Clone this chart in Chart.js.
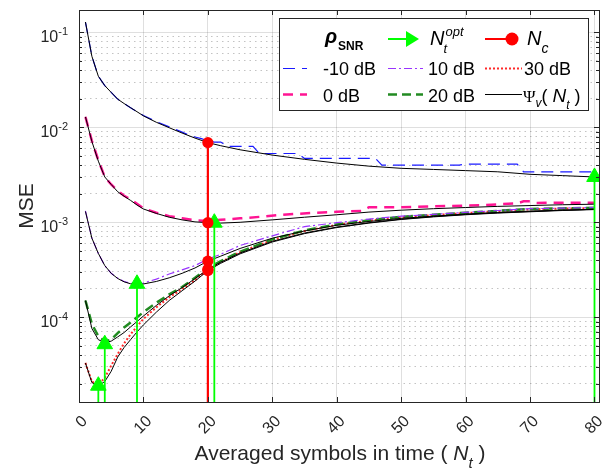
<!DOCTYPE html>
<html><head><meta charset="utf-8">
<script src="https://cdn.jsdelivr.net/npm/chart.js@4.4.1/dist/chart.umd.min.js"></script>
<style>html,body{margin:0;padding:0;background:#fff;}#wrap{width:613px;height:471px;}</style>
</head><body><div id="wrap"><canvas id="c" width="613" height="471"></canvas></div>
<script>
// ---------------- data ----------------
const Y_MIN = 1.28e-5, Y_MAX = 0.172;
const X_MIN = 0, X_MAX = 80.7;
const xTickValues = [0,10,20,30,40,50,60,70,80];
const yDecades = [1e-4,1e-3,1e-2,1e-1];
const yTickExponents = ['-4','-3','-2','-1'];

// shared N grid for analytic curves and 10/20/30 dB simulations
const nGrid = [1,2,3,4,5,6,7,8,9,10,12,14,16,18,20,22,25,30,35,40,45,50,55,60,65,70,75,80];

// Psi_v(N_t) analytic curves (black)
const psiNeg10 = [0.1285,0.056,0.0345,0.0275,0.0233,0.0198,0.0178,0.0161,0.0146,0.0132,0.0113,0.0099,0.0087,0.0077,0.0069,0.0064,0.0058,0.0051,0.0046,0.0042,0.0039,0.0037,0.0036,0.0035,0.0034,0.0032,0.0031,0.0030];
const psi0     = [0.0129,0.0071,0.0044,0.0030,0.0025,0.0021,0.00188,0.0017,0.00152,0.00138,0.00124,0.00113,0.00106,0.00101,0.00099,0.00098,0.00100,0.00106,0.00113,0.0012,0.00128,0.00134,0.00139,0.00143,0.00147,0.0015,0.00153,0.00155];
const psi10    = [0.0013,0.00068,0.00047,0.00035,0.00029,0.000256,0.000236,0.000225,0.000222,0.000224,0.000238,0.00026,0.00029,0.00033,0.00039,0.00044,0.00053,0.00068,0.00081,0.00093,0.00102,0.0011,0.00116,0.00122,0.00127,0.00131,0.00134,0.00137];
const psi20    = [1.5e-4,7.6e-5,5.8e-5,5.4e-5,5.6e-5,6.2e-5,6.9e-5,7.9e-5,9.0e-5,1.03e-4,1.33e-4,1.68e-4,2.05e-4,2.55e-4,3.2e-4,3.8e-4,4.75e-4,6.3e-4,7.7e-4,8.9e-4,9.9e-4,1.08e-3,1.15e-3,1.21e-3,1.26e-3,1.3e-3,1.34e-3,1.37e-3];
const psi30    = [3.3e-5,2.05e-5,1.9e-5,2.1e-5,2.7e-5,3.8e-5,4.8e-5,5.8e-5,7.0e-5,8.3e-5,1.13e-4,1.5e-4,1.9e-4,2.4e-4,3.1e-4,3.7e-4,4.65e-4,6.2e-4,7.6e-4,8.8e-4,9.8e-4,1.07e-3,1.14e-3,1.2e-3,1.25e-3,1.29e-3,1.33e-3,1.36e-3];

// simulated MSE
const nSimNeg10   = [1,2,3,4,5,6,7,8,9,10,12,14,16,17,18,19,20,21,22,23,27,28,34,35,46,47,59,60,68,69,80];
const mseSimNeg10 = [0.1285,0.056,0.0345,0.0275,0.0233,0.0198,0.0178,0.0161,0.0146,0.0133,0.0115,0.0101,0.0089,0.0083,0.0079,0.0076,0.0072,0.0070,0.0070,0.0063,0.0063,0.0053,0.0053,0.0047,0.0047,0.0040,0.0040,0.0041,0.0041,0.0034,0.0034];
const nSim0   = [1,2,3,4,5,6,7,8,10,12,14,16,18,20,22,25,28,31,34,40,44,45,50,55,60,63,68,69,70,71,80];
const mseSim0 = [0.0129,0.0072,0.0045,0.0030,0.0025,0.00215,0.0019,0.00175,0.0014,0.00126,0.00116,0.0011,0.00105,0.00103,0.00106,0.0011,0.00114,0.00119,0.00123,0.00129,0.00132,0.00144,0.00144,0.00147,0.0015,0.00152,0.00158,0.00166,0.00166,0.0016,0.00161];
const mseSim10 = [0.00132,0.00068,0.00047,0.00035,0.00029,0.000258,0.000238,0.000228,0.000226,0.000229,0.000252,0.000285,0.000315,0.00035,0.00041,0.00046,0.00057,0.00072,0.0009,0.00099,0.00108,0.00116,0.00121,0.00127,0.00133,0.00139,0.00141,0.00143];
const mseSim20 = [1.5e-4,8.5e-5,6.3e-5,5.6e-5,5.8e-5,6.8e-5,7.8e-5,8.8e-5,1.0e-4,1.13e-4,1.42e-4,1.74e-4,2.08e-4,2.6e-4,3.3e-4,3.9e-4,4.9e-4,6.6e-4,8.2e-4,9.5e-4,1.05e-3,1.14e-3,1.2e-3,1.26e-3,1.32e-3,1.38e-3,1.4e-3,1.42e-3];
const mseSim30 = [3.3e-5,2.1e-5,1.95e-5,2.3e-5,3.1e-5,4.1e-5,5.3e-5,6.6e-5,8.0e-5,9.6e-5,1.27e-4,1.62e-4,1.98e-4,2.45e-4,3.2e-4,3.8e-4,4.85e-4,6.5e-4,8.1e-4,9.4e-4,1.04e-3,1.13e-3,1.19e-3,1.25e-3,1.31e-3,1.37e-3,1.39e-3,1.41e-3];

// optimum N_t (green stems) and N_c (red stem + dots)
const nOpt   = [3,4,9,21,80];
const mseOpt = [1.9e-5,5.2e-5,2.25e-4,9.9e-4,3.0e-3];
const nC     = [20,20,20,20,20];
const mseNc  = [0.0069,0.00099,0.00039,0.00032,0.00031];

// ---------------- styles ----------------
const AX = '#262626';
const FONT = '"Liberation Sans", Arial, sans-serif';
const C_BLUE='#1a1aff', C_PINK='#ff1493', C_PURPLE='#9933ff', C_GREEN='#228b22', C_RED='#ff2a2a';
const C_STEM_G='#00ff00', C_STEM_R='#ff0000';

const yMinorValues = [];
[1e-5,1e-4,1e-3,1e-2].forEach(d=>{ for(let k=2;k<=9;k++){ const v=k*d; if(v>Y_MIN && v<Y_MAX) yMinorValues.push(v);} });

function pts(ns, vs){ return ns.map((n,i)=>({x:n,y:vs[i]})); }
function line(data, color, width, dash, order){
  return {data, borderColor:color, backgroundColor:color, borderWidth:width, borderDash:dash, showLine:true, pointRadius:0, tension:0, order};
}

const datasets = [
  line(pts(nSimNeg10,mseSimNeg10), C_BLUE, 1.2, [12,7], 3),
  line(pts(nSim0,mseSim0), C_PINK, 2.5, [10,7], 3),
  line(pts(nGrid,mseSim10), C_PURPLE, 1.2, [8,3,2,3], 3),
  line(pts(nGrid,mseSim20), C_GREEN, 2.5, [9,5], 3),
  line(pts(nGrid,mseSim30), C_RED, 2, [2,2], 3),
  line(pts(nGrid,psiNeg10), '#000', 1, [], 2),
  line(pts(nGrid,psi0), '#000', 1, [], 2),
  line(pts(nGrid,psi10), '#000', 1, [], 2),
  line(pts(nGrid,psi20), '#000', 1, [], 2),
  line(pts(nGrid,psi30), '#000', 1, [], 2),
];
// red N_c stem (from axis bottom up to highest N_c point)
datasets.push({data:[{x:nC[0],y:Y_MIN},{x:nC[0],y:Math.max(...mseNc)}], borderColor:C_STEM_R, borderWidth:2.2, showLine:true, pointRadius:0, order:1});
// green N_t^opt stems with triangle heads
nOpt.forEach((n,i)=>{
  datasets.push({data:[{x:n,y:Y_MIN},{x:n,y:mseOpt[i]}], borderColor:C_STEM_G, backgroundColor:C_STEM_G, borderWidth:1.8, showLine:true,
    pointStyle:'triangle', pointRadius:c=>c.dataIndex===1?9:0, pointBorderWidth:1, order:1});
});
// red N_c dots
datasets.push({data:pts(nC,mseNc), showLine:false, pointStyle:'circle', pointRadius:5.6, backgroundColor:C_STEM_R, borderColor:C_STEM_R, pointBorderWidth:0, order:0});

// ---------------- decorations plugin ----------------
function drawSample(ctx, x1, x2, y, color, width, dash){
  ctx.save(); ctx.strokeStyle=color; ctx.lineWidth=width; ctx.setLineDash(dash);
  ctx.beginPath(); ctx.moveTo(x1,y); ctx.lineTo(x2,y); ctx.stroke(); ctx.restore();
}
function seq(ctx, x, parts){
  parts.forEach(p=>{ ctx.font=p.f; ctx.fillText(p.t, x, p.y); x += ctx.measureText(p.t).width + (p.adv||0); });
  return x;
}
const decor = {
  id:'decor',
  afterDraw(chart){
    const {ctx, chartArea:a, scales} = chart;
    const xs = scales.x, ys = scales.y;
    ctx.save();
    // inward tick marks
    ctx.strokeStyle = AX; ctx.lineWidth = 1; ctx.setLineDash([]);
    ctx.beginPath();
    xTickValues.forEach(v=>{ const p=Math.round(xs.getPixelForValue(v))+0.5;
      ctx.moveTo(p,a.bottom); ctx.lineTo(p,a.bottom-5); ctx.moveTo(p,a.top); ctx.lineTo(p,a.top+5); });
    yDecades.forEach(v=>{ const p=Math.round(ys.getPixelForValue(v))+0.5;
      ctx.moveTo(a.left,p); ctx.lineTo(a.left+5,p); ctx.moveTo(a.right,p); ctx.lineTo(a.right-5,p); });
    yMinorValues.forEach(v=>{ const p=Math.round(ys.getPixelForValue(v))+0.5;
      ctx.moveTo(a.left,p); ctx.lineTo(a.left+3,p); ctx.moveTo(a.right,p); ctx.lineTo(a.right-3,p); });
    ctx.stroke();
    // box
    ctx.strokeRect(a.left+0.5, a.top+0.5, a.right-a.left, a.bottom-a.top);

    // y tick labels 10^k
    ctx.fillStyle = AX; ctx.textBaseline='alphabetic';
    yDecades.forEach((v,i)=>{
      const p = ys.getPixelForValue(v);
      ctx.font = '11px '+FONT; const e = yTickExponents[i]; const ew = ctx.measureText(e).width;
      ctx.textAlign='left'; ctx.fillText(e, 68-ew, p+2.5);
      ctx.font = '16px '+FONT; ctx.textAlign='right'; ctx.fillText('10', 68-ew, p+9.3);
    });
    // y title
    ctx.save(); ctx.translate(33, (a.top+a.bottom)/2); ctx.rotate(-Math.PI/2);
    ctx.font='21px '+FONT; ctx.textAlign='center'; ctx.fillText('MSE',0,0); ctx.restore();
    // x title
    ctx.textAlign='left';
    const xt = [
      {t:'Averaged symbols in time ( ', f:'21px '+FONT, y:460},
      {t:'N', f:'italic 21px '+FONT, y:460},
      {t:'t', f:'italic 15px '+FONT, y:468},
      {t:' )', f:'21px '+FONT, y:460},
    ];
    let tw=0; xt.forEach(p=>{ctx.font=p.f; tw+=ctx.measureText(p.t).width;});
    seq(ctx, (a.left+a.right)/2 - tw/2 + 1, xt);

    // legend
    const L={x:279, y:18, w:309, h:92};
    ctx.fillStyle='#fff'; ctx.fillRect(L.x+0.5,L.y+0.5,L.w,L.h);
    ctx.strokeStyle=AX; ctx.lineWidth=1; ctx.strokeRect(L.x+0.5,L.y+0.5,L.w,L.h);
    ctx.fillStyle='#000'; ctx.textAlign='left'; ctx.textBaseline='alphabetic';
    // header row
    seq(ctx, 325, [{t:'\u03C1', f:'bold italic 20px '+FONT, y:43, adv:1},{t:'SNR', f:'bold 12px '+FONT, y:50}]);
    drawSample(ctx, 388, 410, 39, C_STEM_G, 2, []);
    ctx.fillStyle=C_STEM_G; ctx.beginPath(); ctx.moveTo(406,31); ctx.lineTo(419,39); ctx.lineTo(406,47); ctx.closePath(); ctx.fill();
    ctx.fillStyle='#000';
    ctx.font='italic 20px '+FONT; ctx.fillText('N',430,45);
    const nw = ctx.measureText('N').width;
    ctx.font='italic 13px '+FONT; ctx.fillText('t',430+nw-1,53); ctx.fillText('opt',430+nw+1,36);
    drawSample(ctx, 485, 508, 39, C_STEM_R, 2, []);
    ctx.fillStyle=C_STEM_R; ctx.beginPath(); ctx.arc(512,39,6.5,0,Math.PI*2); ctx.fill();
    ctx.fillStyle='#000';
    ctx.font='italic 20px '+FONT; ctx.fillText('N',527,45);
    ctx.font='italic 14px '+FONT; ctx.fillText('c',527+nw,53);
    // rows
    const r2=68.5, r3=94.5;
    drawSample(ctx,283,307,r2,C_BLUE,1.2,[12,7]);
    drawSample(ctx,283,307,r3,C_PINK,2.5,[10,7]);
    drawSample(ctx,388,423,r2,C_PURPLE,1.2,[8,3,2,3]);
    drawSample(ctx,388,423,r3,C_GREEN,2.5,[9,5]);
    drawSample(ctx,485,522,r2,C_RED,2,[2,2]);
    drawSample(ctx,485,522,r3,'#000',1,[]);
    ctx.font='18px '+FONT;
    ctx.fillText('-10 dB',323,r2+6.5); ctx.fillText('0 dB',323,r3+7);
    ctx.fillText('10 dB',428,r2+6.5); ctx.fillText('20 dB',428,r3+7);
    ctx.fillText('30 dB',524,r2+6.5);
    seq(ctx, 523, [
      {t:'\u03A8', f:'17px "Liberation Serif", serif', y:r3+7},
      {t:'v', f:'italic 12px '+FONT, y:r3+12},
      {t:'( ', f:'18px '+FONT, y:r3+7},
      {t:'N', f:'italic 19px '+FONT, y:r3+7},
      {t:'t', f:'italic 12px '+FONT, y:r3+14},
      {t:' )', f:'18px '+FONT, y:r3+7},
    ]);
    ctx.restore();
  }
};

new Chart(document.getElementById('c'), {
  type:'scatter',
  data:{datasets},
  options:{
    responsive:false, animation:false, devicePixelRatio:1,
    layout:{padding:{left:0,right:14,top:8,bottom:0}},
    plugins:{legend:{display:false}, tooltip:{enabled:false}},
    elements:{line:{tension:0}},
    scales:{
      x:{type:'linear', min:X_MIN, max:X_MAX, position:'bottom',
        afterBuildTicks:s=>{ s.ticks = xTickValues.map(v=>({value:v})); },
        afterFit:s=>{ s.height = 69; s.paddingLeft = 0; s.paddingRight = 0; },
        grid:{color:'rgba(38,38,38,0.15)', drawTicks:false, lineWidth:1},
        border:{display:false},
        ticks:{color:AX, font:{family:FONT, size:16}, minRotation:45, maxRotation:45, padding:10, labelOffset:6, autoSkip:false,
          callback:v=>String(v)}
      },
      y:{type:'logarithmic', min:Y_MIN, max:Y_MAX, position:'left',
        afterBuildTicks:s=>{ s.ticks = yDecades.map(v=>({value:v})); },
        afterFit:s=>{ s.width = 79; s.paddingTop = 0; s.paddingBottom = 0; },
        grid:{color:'rgba(38,38,38,0.15)', drawTicks:false, lineWidth:1},
        border:{display:false},
        ticks:{display:false}
      },
      yMinor:{type:'logarithmic', min:Y_MIN, max:Y_MAX, position:'right',
        afterBuildTicks:s=>{ s.ticks = yMinorValues.map(v=>({value:v})); },
        afterFit:s=>{ s.width = 0; s.paddingTop = 0; s.paddingBottom = 0; },
        grid:{color:'rgba(38,38,38,0.28)', drawTicks:false, lineWidth:1},
        border:{display:false, dash:[1.5,4]},
        ticks:{display:false}
      }
    }
  },
  plugins:[decor]
});
</script>
</body></html>
